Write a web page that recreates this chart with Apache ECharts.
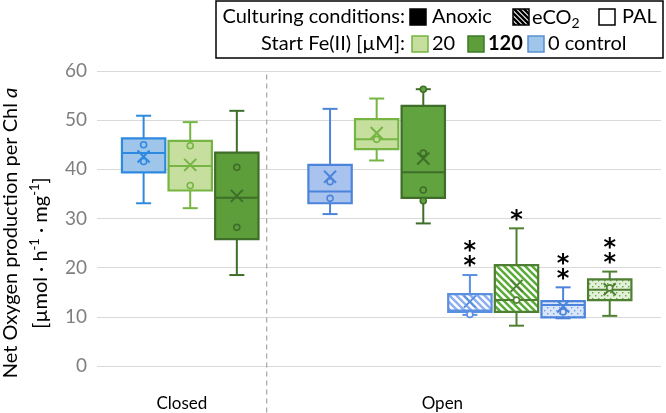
<!DOCTYPE html>
<html><head><meta charset="utf-8">
<script src="https://cdn.jsdelivr.net/npm/echarts@6/dist/echarts.min.js"></script>
<style>html,body{margin:0;padding:0;background:#fff}#c{width:666px;height:413px}</style>
</head><body><div id="c"></div>
<script>
// ---- data ----
const groupNames = ['Closed', 'Open'];
const groupLabelPos = [0.82, 6.41];
const dividerPos = [2.64];
const boxSlots = [0, 1, 2, 4, 5, 6, 7, 8, 9, 10];
const whiskerLow = [33.1, 32.1, 18.5, 30.9, 41.8, 29.0, 10.4, 8.2, 9.7, 10.2];
const q1 = [39.4, 35.7, 25.8, 33.1, 44.1, 34.2, 11.0, 11.0, 9.9, 13.4];
const medians = [43.3, 40.7, 34.2, 35.5, 46.1, 39.4, 11.3, 13.4, 12.4, 15.5];
const q3 = [46.3, 45.8, 43.4, 40.9, 50.2, 52.9, 14.6, 20.5, 13.2, 17.6];
const whiskerHigh = [50.9, 49.6, 51.9, 52.3, 54.4, 56.3, 18.5, 28.0, 16.0, 19.2];
const means = [42.6, 40.9, 34.6, 38.5, 47.4, 42.2, 13.1, 16.3, 12.1, 15.6];
const points = [[45.0, 41.6], [44.8, 36.7], [40.4, 28.2], [37.5, 34.1], [46.1], [56.3, 43.3, 35.8, 33.6], [10.5], [13.4], [11.0], [15.9]];
const stars = [0, 0, 0, 0, 0, 0, 2, 1, 2, 2];
const yTicks = [0, 10, 20, 30, 40, 50, 60];

// ---- styles ----
const FONT = 'Lato';
function makeHatch(line, bg, period, lw) {
  const c = document.createElement('canvas');
  c.width = c.height = period;
  const g = c.getContext('2d');
  g.fillStyle = bg; g.fillRect(0, 0, period, period);
  g.strokeStyle = line; g.lineWidth = lw;
  g.beginPath();
  for (const o of [-period, 0, period]) { g.moveTo(o - 1, -1); g.lineTo(o + period + 1, period + 1); }
  g.stroke();
  return { image: c, repeat: 'repeat' };
}
function makeDots(dot, bg, period) {
  const c = document.createElement('canvas');
  c.width = c.height = period;
  const g = c.getContext('2d');
  g.fillStyle = bg; g.fillRect(0, 0, period, period);
  g.fillStyle = dot;
  g.fillRect(1, 1, 1.4, 1.4);
  g.fillRect(period / 2 + 1, period / 2 + 1, 1.4, 1.4);
  return { image: c, repeat: 'repeat' };
}
const boxStyles = [
  { stroke: '#2e8ae0', fill: '#9fc5ea', pt: '#9fc5ea' },
  { stroke: '#76b543', fill: '#c6df9f', pt: '#c6df9f' },
  { stroke: '#3e6e29', fill: '#5d9e3a', pt: '#5d9e3a' },
  { stroke: '#4d84db', fill: '#a7c3ee', pt: '#a7c3ee' },
  { stroke: '#76b543', fill: '#c6df9f', pt: '#c6df9f' },
  { stroke: '#3e6e29', fill: '#61a33e', pt: '#61a33e' },
  { stroke: '#5b8fe0', fill: makeHatch('#8db0ee', '#ffffff', 7, 2.6), pt: '#ffffff' },
  { stroke: '#4f7f33', fill: makeHatch('#5aab38', '#ffffff', 7, 2.6), pt: '#ffffff' },
  { stroke: '#4d84db', fill: makeDots('#6f9be0', '#d9e6f9', 6), pt: '#d9e6f9' },
  { stroke: '#4f7f33', fill: makeDots('#5aab38', '#e3efd8', 6), pt: '#e3efd8' }
];

const boxData = boxSlots.map((s, i) => [s, whiskerLow[i], q1[i], medians[i], q3[i], whiskerHigh[i], means[i]]);

function renderBox(params, api) {
  const i = params.dataIndex;
  const x = api.value(0);
  const st = boxStyles[i];
  const pLow = api.coord([x, api.value(1)]);
  const pQ1 = api.coord([x, api.value(2)]);
  const pMed = api.coord([x, api.value(3)]);
  const pQ3 = api.coord([x, api.value(4)]);
  const pHigh = api.coord([x, api.value(5)]);
  const pMean = api.coord([x, api.value(6)]);
  const cx = pLow[0];
  const half = api.size([1, 0])[0] * 0.465;
  const cap = 7.5;
  const ls = () => ({ stroke: st.stroke, lineWidth: 2 });
  const ch = [];
  ch.push({ type: 'line', shape: { x1: cx, y1: pHigh[1], x2: cx, y2: pQ3[1] }, style: ls() });
  ch.push({ type: 'line', shape: { x1: cx, y1: pQ1[1], x2: cx, y2: pLow[1] }, style: ls() });
  ch.push({ type: 'line', shape: { x1: cx - cap, y1: pHigh[1], x2: cx + cap, y2: pHigh[1] }, style: ls() });
  ch.push({ type: 'line', shape: { x1: cx - cap, y1: pLow[1], x2: cx + cap, y2: pLow[1] }, style: ls() });
  ch.push({ type: 'rect', shape: { x: cx - half, y: pQ3[1], width: 2 * half, height: pQ1[1] - pQ3[1] },
    style: { fill: st.fill, stroke: st.stroke, lineWidth: 2.2 } });
  ch.push({ type: 'line', shape: { x1: cx - half, y1: pMed[1], x2: cx + half, y2: pMed[1] }, style: ls() });
  const m = 6;
  ch.push({ type: 'line', shape: { x1: cx - m, y1: pMean[1] - m, x2: cx + m, y2: pMean[1] + m }, style: ls() });
  ch.push({ type: 'line', shape: { x1: cx - m, y1: pMean[1] + m, x2: cx + m, y2: pMean[1] - m }, style: ls() });
  points[i].forEach(v => {
    const p = api.coord([x, v]);
    ch.push({ type: 'circle', shape: { cx: cx, cy: p[1], r: 3 }, style: { fill: st.pt, stroke: st.stroke, lineWidth: 1.6 } });
  });
  for (let k = 0; k < stars[i]; k++) {
    ch.push({ type: 'text', x: cx, y: pHigh[1] - 8 - 15 * k,
      style: { text: '*', fill: '#000', font: 'bold 24px "DejaVu Sans"', align: 'center', verticalAlign: 'middle' } });
  }
  return { type: 'group', children: ch };
}

function renderDivider(params, api) {
  const p = api.coord([api.value(0), 59.3]);
  return { type: 'line', shape: { x1: p[0], y1: p[1], x2: p[0], y2: 413 },
    style: { stroke: '#a6a6a6', lineWidth: 1.2, lineDash: [5, 4] } };
}

// legend graphics
const base = { fontFamily: FONT, fontSize: 20, fill: '#000' };
function txt(x, y, text, align, extra) {
  return { type: 'text', x: x, y: y, style: Object.assign({ text: text, align: align, verticalAlign: 'middle' }, base, extra || {}) };
}
function sq(x, y, fill, stroke) {
  return { type: 'rect', shape: { x: x, y: y, width: 16, height: 16 }, style: { fill: fill, stroke: stroke, lineWidth: 1.5 } };
}
const r1 = 17, r2 = 44;
const legend = [
  { type: 'rect', shape: { x: 216, y: 1, width: 447, height: 57 }, style: { fill: '#fff', stroke: '#000', lineWidth: 1.5 } },
  txt(405, r1, 'Culturing conditions:', 'right'),
  sq(410, r1 - 8, '#000', '#000'),
  txt(432, r1, 'Anoxic', 'left'),
  sq(513, r1 - 8, makeHatch('#000', '#fff', 5, 2.6), '#000'),
  { type: 'text', x: 532, y: r1 + 1, style: { text: '{n|eCO}{s|2}', align: 'left', verticalAlign: 'middle',
    rich: { n: { fontFamily: FONT, fontSize: 20, lineHeight: 24, fill: '#000' }, s: { fontFamily: FONT, fontSize: 14, lineHeight: 14, verticalAlign: 'bottom', fill: '#000' } } } },
  sq(599, r1 - 8, '#fff', '#000'),
  txt(622, r1, 'PAL', 'left'),
  txt(405, r2, 'Start Fe(II) [µM]:', 'right'),
  sq(412, r2 - 8, '#c6df9f', '#76b543'),
  txt(432, r2, '20', 'left'),
  sq(468, r2 - 8, '#5d9e3a', '#3e7a2a'),
  txt(488, r2, '120', 'left', { fontWeight: 'bold' }),
  sq(528, r2 - 8, '#9fc5ea', '#5a8fd0'),
  txt(548, r2, '0 control', 'left')
];
const yTitle = [
  { type: 'text', x: 11, y: 233, rotation: Math.PI / 2,
    style: { text: '{n|Net Oxygen production per Chl }{i|a}', align: 'center', verticalAlign: 'middle',
      rich: { n: { fontFamily: FONT, fontSize: 20, fill: '#000' }, i: { fontFamily: FONT, fontSize: 20, fontStyle: 'italic', fill: '#000' } } } },
  { type: 'text', x: 41, y: 253, rotation: Math.PI / 2,
    style: { text: '{n|[µmol · h}{s|-1}{n| · mg}{s|-1}{n|]}', align: 'center', verticalAlign: 'middle',
      rich: { n: { fontFamily: FONT, fontSize: 20, lineHeight: 26, fill: '#000' }, s: { fontFamily: FONT, fontSize: 13, lineHeight: 13, verticalAlign: 'top', fill: '#000' } } } }
];

const chart = echarts.init(document.getElementById('c'), null, { renderer: 'canvas' });
chart.setOption({
  animation: false,
  backgroundColor: '#fff',
  grid: { left: 97, right: 5, top: 71, bottom: 47 },
  xAxis: {
    type: 'value', min: -1, max: 11.1,
    axisLine: { show: false }, axisTick: { show: false }, splitLine: { show: false },
    axisLabel: {
      customValues: groupLabelPos, margin: 29, color: '#000', fontFamily: FONT, fontSize: 17,
      formatter: v => {
        let best = 0;
        groupLabelPos.forEach((p, k) => { if (Math.abs(p - v) < Math.abs(groupLabelPos[best] - v)) best = k; });
        return groupNames[best];
      }
    }
  },
  yAxis: {
    type: 'value', min: yTicks[0], max: yTicks[yTicks.length - 1], interval: 10,
    axisLine: { show: false }, axisTick: { show: false },
    splitLine: { lineStyle: { color: '#d9d9d9', width: 1.2 } },
    axisLabel: { color: '#7f7f7f', fontFamily: FONT, fontSize: 19, margin: 10 }
  },
  series: [
    { type: 'custom', renderItem: renderDivider, data: dividerPos.map(v => [v]), clip: false, z: 1 },
    { type: 'custom', renderItem: renderBox, data: boxData, encode: { x: 0, y: [1, 2, 3, 4, 5, 6] }, clip: false, z: 2 }
  ],
  graphic: legend.concat(yTitle)
});
</script></body></html>
